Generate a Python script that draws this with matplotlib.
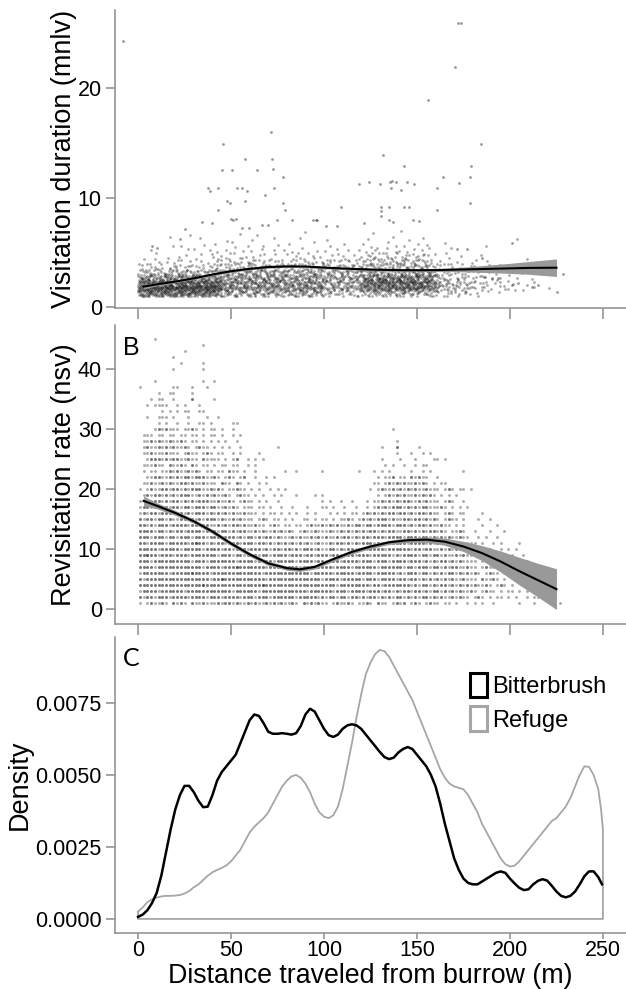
import matplotlib
matplotlib.use("Agg")
import matplotlib.pyplot as plt
from matplotlib.patches import Patch
from matplotlib.ticker import FormatStrFormatter

plt.rcParams["font.family"] = ["Liberation Sans", "DejaVu Sans"]

# ---------------- panel A: visitation duration ----------------
# points per cell: columns of 2.5 m from 0 m,
# rows of 0.5 min starting at 1.0 min (bottom row first), hex digits
A_ROWS = [
    "89a89a99|9a99a9a9|95454545|45454544|45454545|23232323|34343434|43434343|21212121|11010100|00000000|00",
    "cdcedcec|decddced|dc676767|67676766|67676767|45454545|89898a99|a9a99987|53423232|21210121|01100100|10",
    "abacabca|bcabbacb|ab767676|67676767|66767676|45454545|99aabab9|babaa9a8|53423232|21211201|10010100|00",
    "66756576|67675767|76565656|56565656|55656565|45454545|78789787|98978786|42312121|21201101|01001000|00",
    "34243243|43434234|44545345|45454545|43454543|34343434|45555454|54556454|32313121|12110101|00100000|00",
    "21212111|21221212|23232323|32332323|23232323|32323232|33434343|34343432|21120201|10110100|00000000|00",
    "01011011|11011101|12121212|21212121|12121212|12121212|22323232|23232321|10101001|10010000|00010000|00",
    "00010010|10100101|11011011|10110101|01101101|01011010|12121212|12121211|00100100|01000000|00000000|00",
    "00100000|00101001|01101010|10100101|01010010|10100101|01110101|11010110|00010000|00000000|00000000|00",
    "00000001|01000010|10001001|00100010|10000100|01001000|10100101|01001010|01000000|00100000|00000000|00",
    "00000010|00000100|00010000|10000100|00100000|10000000|01000010|00100100|00000000|00000000|01000000|00",
    "00000000|00010000|00000100|01000000|00010000|00000000|00100000|10000000|00000000|00000000|00000000|00",
]
A_COL_W = 2.5
A_ROW_H = 0.5
A_ROW0 = 1.0

# sparse points above the main cloud
A_OUT_X = [-8, 71.5, 45.9, 71.9, 57.5, 45, 50.5, 63.8, 72.4, 78.1, 37.8, 43.2, 53.1,
           55.7, 72.9, 38.7, 58.4, 68.3, 47.7, 49.5, 57.5, 43.2, 78.1, 79, 51.2, 34.2,
           39.6, 74.6, 82.7, 55.7, 25.3, 94.3, 109, 95.7, 101, 107.2, 49.8, 52.7, 66.5,
           70, 59.7, 22.6, 172.2, 173.4, 170.4, 155.7, 184.2, 131.9, 143.2, 178.9,
           163.8, 178.5, 119, 124.2, 130.1, 135.5, 136.5, 138.7, 144.8, 148.4, 172.4,
           135.8, 141.2, 160.9, 178.3, 130.5, 135, 143, 145.7, 160.9, 130.5, 130.5,
           96.4, 134.7, 147.8, 121.7, 151.3, 137, 200.9, 228.7, 225.4, 212, 204.3,
           201.3, 215.2, 193.8, 190.2, 186.7, 184.8, 176.7, 171.3, 7.4, 10]
A_OUT_Y = [24.3, 16.0, 14.9, 13.5, 13.5, 12.5, 12.5, 12.5, 12.6, 11.9, 10.9, 10.9, 10.9,
           10.9, 10.9, 10.6, 10.6, 10.2, 9.7, 9.5, 9.7, 8.9, 9.5, 8.9, 8.0, 7.8,
           7.7, 8.0, 8.0, 7.2, 7.1, 8.0, 9.15, 8.0, 7.4, 7.4, 8.1, 8.1, 7.5,
           7.5, 7.2, 6.2, 25.9, 25.9, 21.9, 18.9, 14.9, 13.9, 12.9, 12.9,
           11.9, 11.9, 11.2, 11.4, 11.2, 11.4, 11.5, 11.4, 11.4, 11.2, 11.3,
           10.9, 10.7, 10.9, 9.5, 9.15, 9.15, 9.15, 9.15, 8.9, 8.3, 8.8,
           8.0, 8.0, 8.0, 7.7, 7.9, 7.8, 5.9, 3.0, 1.4, 1.9, 2.2,
           2.0, 2.0, 2.7, 2.7, 2.8, 4.5, 5.3, 5.3, 5.6, 5.4]

# smoothed trend and its confidence half-width
A_FIT_X = [3, 10, 20, 30, 40, 50, 60, 70, 80, 90, 100, 110, 120, 130, 140, 150, 160,
           170, 180, 190, 200, 210, 225]
A_FIT_Y = [1.9, 2.1, 2.35, 2.65, 3.0, 3.3, 3.52, 3.68, 3.74, 3.73, 3.63, 3.55, 3.48,
           3.43, 3.40, 3.39, 3.40, 3.44, 3.48, 3.52, 3.56, 3.60, 3.62]
A_FIT_SE = [0.22, 0.14, 0.11, 0.1, 0.1, 0.1, 0.1, 0.1, 0.1, 0.1, 0.1, 0.1, 0.1, 0.1,
            0.1, 0.1, 0.12, 0.18, 0.26, 0.36, 0.46, 0.58, 0.8]

# ---------------- panel B: revisitation rate ----------------
# rows of integer counts from 45 down to 1, columns of 2 m from 0 m
# ' ' none, '.' one point, ':' two, '#' three
B_TOP = 45
B_ROWS = [
    "    .     ",
    "          |       .  ",
    "          |  .       ",
    "         .",
    "          | .     .  ",
    "         .|       .  ",
    "",
    "    .     |       .  |.         ",
    ".        .|.   .   . ",
    "     .  ..|    .     ",
    "   . ..  .|    :     |.         ",
    "  . ....  |. .   .   ",
    "      . . |. ..  ..  ",
    "  .  ... .|   .    . | .        ",
    "     . .  |.  .  .. .|     ..   ",
    "    .:.:..|. ..:. . .|. .  .    |          |          |          |        . ",
    " ... .. ..| .. .. . .|. .  . .  ",
    " ..:.:..:.|.:. .. . .| . .  .   |          |          |          |         . ",
    " .:..:.:.:|..:. .:.. |. . .  .  |       .  |          |          |     .   : |     .    ",
    " ..:...:..|. .:.. .:.| ..  . .  |  .       |          |          |         . |   .  . . ",
    "  .:::.:.:|:..:.. :..|.. . .:  .| . .      |          |          |     .    |.   .    .|. .       ",
    " ...:.. :.|.:. :. .. |. .. ..  .| .        |          |          |      . . | .  . ..  ",
    " . .. ..:.|:..:.:. ..| .. :.. . | .       .|  .      .|         .|   . . . |   .  . . |       .  ",
    "  ..::..:.|:.::.:::..|:. .:. .: | .  . .   |          |          |    . ..: |.. :.:..  |.         ",
    " ..:..:.:.|.::.:..:..|. :.. :. .|  . .     |          |          |   .. .:.:|.:..:.:. .| ..       ",
    ". .:..::.:|:.:.:::..:|.:. ..:.. |. .  . . .|          |          |  . .:..:.|:.:.:..:..|. .:. .. .",
    " .:.::.:.:|.:::..:.:.|:..:. .:..| . .  . . |  .    . .|          |    . .:.:|.:..:.:.:.| . . .    ",
    "..:.::.:.:|:.:.:.:::.|.:..:. .:.|. . .  .  |         .| .  .  .  | . ..:.:.:|.::..:.:..|. .:.  .  ",
    ".::.:.::.:|:.::.:::.:|:..:.:. ..|. .. .  . | .   .   .|. .  .  . | . .:.:.::|:.:.:.::..|.:. . . . ",
    ".:.::.:::.|::.:.:::.:|.:.:.:..:.|.. . .. . |. .  . .  | . . . .. |.:.:.:.::.|::.:.::.:.|. .:. ..  |  .       ",
    ":.::.::.:.|.::::.:.::|:.:..:.:..|. .:. .. .| .  .. . .|. . ..:. .|:.:.:::.:.|.::.::.:.:|. .:.. .  | .  .     ",
    "::.:.:::.:|:::.::.::.|.:.:.::.:.|.:.. .:. .|. .. .:..:|.:.:..:.::|.::.::::.:|::.:.::.:.|.:.. . .  |  .   .   ",
    "::::.::.:.|::.::::.::|:.::.:.::.|.:.:..:.:.|:. .:..:..|.:..:.:.:.|:.::.:.::.|.::.:.:.::|.:. ..:.  |.   .   . ",
    ":::.:::.::|.:::.:::.:|::.:::.:.:|:.:.::.:..|.:.:..:.:.|:..:.::.:.|::.:::.:::|:.:::.::.:|.:.:..:.. | . .  .   ",
    "::.::::.::|:::.:#::.:|.::.:::.::|:.::.:.:.:|.:.:.:..:.|.:.::.:.:.|:::.::.:::|::.::::.:.|:.:.:.. ..|. .  . .  |  .       ",
    ":::::.::::|:.:::::.::|::.::.:::.|:::.:.::.:|:.:.:::.:.|.::.:.::.:|:.::::.:::|:::.::.::.|.:.:.:.. .|. . .  . .| .        ",
    "::#::.:::.|:::.::::::|:.:::.::.:|::.::.::::|.:::.::.::|:.::.:::.:|::.:::::.:|.::::.::.:|:.:..:.:..|. .. . .  |.  .      ",
    ":::.::::::|::::.:::.:|::::::.:::|:.::::.:::|::.::::.::|.:::.::::.|:::.:::.::|::.:::.:.:|.::.:.:...|. .:.. . .| .  .     ",
    "::::.:::::|:::::::.::|::.:::#:::|::::.:::::|:::.::::::|::.::::.::|::::.:::::|:.::.:::.:|:.:.::..:.|. .:.. .. |.  .   .  ",
    ".:::::::.:|::::#::::.|::::::::::|:::.::::::|::::::.:::|::.:::::.:|:::.:::::.|:.:::.::.:|.:.::.:.:.|:. .:.. .:| . .  .   ",
    ":.::::::::|:::::::::.|::#:::::::|::::.:::::|:::::::::.|::::.:::::|.:::.::::.|::.::.:.:.|:.:.:..:..|. :..:. . | .  . . . ",
    "::::::::::|:::::::#::|::::::::::|:::#::::::|::::::::::|:::.::::::|::.::.::::|:::.:.::.:|.::.:.:.:.|:..:. .:. |.  . .    ",
    ".::::.::::|::.:::::::|:::::.::::|::.:::::::|:::::.::::|::.:::.:::|:.:::.::.:|.::.::.:.:|:.:.:.:..:|. .:.. . .|. . .  .  ",
    ":.::.:::.:|:::.::::.:|::.::::.::|:.:::.::::|::.:::::.:|.::.::.::.|:.::.:.:.:|:.:.:.::.:|.:..:.:.. |.:. . .. .| .  . ..  ",
    ". .:..:. :|.:. :..:..|.:.::.:..:|.:..:.:.:.|.:. :.:.:.|. .:..:. .|.:. :.. .:|.: .:. .:.|. .. .  . |. .  .    |  .   .   |   .      ",
]
B_COL_W = 2.0
B_MARK = {" ": 0, ".": 1, ":": 2, "#": 3}

B_FIT_X = [3, 10, 20, 30, 40, 50, 60, 70, 80, 87, 95, 105, 115, 125, 135, 145, 155,
           165, 175, 185, 195, 205, 215, 225]
B_FIT_Y = [18.0, 17.2, 16.0, 14.6, 12.9, 10.9, 9.1, 7.6, 6.8, 6.6, 7.0, 8.3, 9.5,
           10.4, 11.1, 11.45, 11.55, 11.2, 10.4, 9.3, 7.9, 6.3, 4.8, 3.3]
B_FIT_SE = [0.8, 0.5, 0.4, 0.35, 0.35, 0.35, 0.35, 0.35, 0.35, 0.35, 0.35, 0.35, 0.35,
            0.35, 0.35, 0.38, 0.45, 0.6, 0.85, 1.25, 1.75, 2.3, 2.8, 3.4]

# ---------------- panel C: density of distances ----------------
BIT_X = [0, 2.5, 5, 7.5, 10, 12.5, 15, 17.5, 20, 22.5, 25, 27.5, 30, 32.5, 35, 37.5,
         40, 42.5, 45, 47.5, 50, 52.5, 55, 57.5, 60, 62.5, 65, 67.5, 70, 72.5, 75,
         77.5, 80, 82.5, 85, 87.5, 90, 92.5, 95, 97.5, 100, 102.5, 105, 107.5, 110,
         112.5, 115, 117.5, 120, 122.5, 125, 127.5, 130, 132.5, 135, 137.5, 140,
         142.5, 145, 147.5, 150, 152.5, 155, 157.5, 160, 162.5, 165, 167.5, 170,
         172.5, 175, 177.5, 180, 182.5, 185, 187.5, 190, 192.5, 195, 197.5, 200,
         202.5, 205, 207.5, 210, 212.5, 215, 217.5, 220, 222.5, 225, 227.5, 230,
         232.5, 235, 237.5, 240, 242.5, 245, 247.5, 249.5]
BIT_D = [0.00007, 0.00015, 0.0003, 0.00055, 0.0009, 0.0015, 0.0023, 0.0031, 0.0038,
         0.0043, 0.00462, 0.00462, 0.0044, 0.0041, 0.00388, 0.0039, 0.0043, 0.0048,
         0.0051, 0.0053, 0.0055, 0.0057, 0.0061, 0.0065, 0.0069, 0.0071, 0.00705,
         0.0068, 0.0065, 0.00643, 0.00643, 0.00645, 0.00643, 0.0064, 0.00645, 0.0067,
         0.0071, 0.0073, 0.0072, 0.0069, 0.0066, 0.00638, 0.00632, 0.0064, 0.0066,
         0.00672, 0.00676, 0.00672, 0.0066, 0.0064, 0.0062, 0.0060, 0.0058, 0.00562,
         0.00555, 0.0056, 0.00578, 0.0059, 0.00597, 0.0059, 0.0057, 0.0055, 0.0053,
         0.0050, 0.0046, 0.0040, 0.0033, 0.0027, 0.0021, 0.0017, 0.0014, 0.00125,
         0.0012, 0.0012, 0.0013, 0.0014, 0.0015, 0.0016, 0.00165, 0.0016, 0.0014,
         0.00123, 0.00108, 0.0010, 0.00103, 0.0012, 0.00132, 0.00138, 0.00133,
         0.00115, 0.00095, 0.0008, 0.00075, 0.0008, 0.00095, 0.0012, 0.00148,
         0.00165, 0.00165, 0.00145, 0.0012]
REF_X = [0, 2.5, 5, 7.5, 10, 12.5, 15, 17.5, 20, 22.5, 25, 27.5, 30, 32.5, 35, 37.5,
         40, 42.5, 45, 47.5, 50, 52.5, 55, 57.5, 60, 62.5, 65, 67.5, 70, 72.5, 75,
         77.5, 80, 82.5, 85, 87.5, 90, 92.5, 95, 97.5, 100, 102.5, 105, 107.5, 110,
         112.5, 115, 117.5, 120, 122.5, 125, 127.5, 130, 132.5, 135, 137.5, 140,
         142.5, 145, 147.5, 150, 152.5, 155, 157.5, 160, 162.5, 165, 167.5, 170,
         172.5, 175, 177.5, 180, 182.5, 185, 187.5, 190, 192.5, 195, 197.5, 200,
         202.5, 205, 207.5, 210, 212.5, 215, 217.5, 220, 222.5, 225, 227.5, 230,
         232.5, 235, 237.5, 240, 242.5, 245, 247.5, 249, 250, 250, 0, 0]
REF_D = [0.00025, 0.0004, 0.00058, 0.00068, 0.00074, 0.00078, 0.0008, 0.0008, 0.00081,
         0.00083, 0.00088, 0.00097, 0.0011, 0.0012, 0.00135, 0.0015, 0.00162, 0.0017,
         0.00177, 0.00186, 0.0020, 0.0022, 0.0024, 0.0027, 0.0030, 0.0032, 0.00335,
         0.0035, 0.0037, 0.0040, 0.0043, 0.0046, 0.0048, 0.00495, 0.0050, 0.0049,
         0.0047, 0.0044, 0.0040, 0.0037, 0.00355, 0.0035, 0.0036, 0.0039, 0.0045,
         0.0053, 0.0061, 0.0070, 0.0078, 0.0085, 0.0089, 0.0092, 0.00934, 0.0093,
         0.0091, 0.0088, 0.0085, 0.0082, 0.0079, 0.0076, 0.0072, 0.0068, 0.0064,
         0.0060, 0.0056, 0.0052, 0.0049, 0.0047, 0.0046, 0.00455, 0.0045, 0.0043,
         0.0040, 0.0037, 0.0033, 0.0030, 0.0027, 0.0024, 0.0021, 0.0019, 0.00182,
         0.00185, 0.0020, 0.0022, 0.0024, 0.0026, 0.0028, 0.0030, 0.0032, 0.0034,
         0.0035, 0.0037, 0.0039, 0.0042, 0.0046, 0.0050, 0.0053, 0.00528, 0.0050,
         0.0045, 0.0038, 0.0031, 0.0, 0.0, 0.00025]

X_TICKS = [0, 50, 100, 150, 200, 250]

# fixed spread of points that share one cell (fractions of the cell)
CELL_SPREAD = [(-0.31, -0.27), (0.12, 0.35), (0.38, -0.08), (-0.05, 0.02), (-0.42, 0.22),
               (0.27, -0.39), (0.05, -0.22), (-0.2, 0.41), (0.44, 0.18), (-0.36, -0.05),
               (0.19, 0.1), (-0.12, -0.44), (0.33, 0.42), (-0.45, -0.4), (0.02, 0.27),
               (-0.25, 0.12)]


def grid_points_a():
    xs, ys = [], []
    n_spread = len(CELL_SPREAD)
    for r, row in enumerate(A_ROWS):
        cells = "".join(ch.ljust(8)[:8] for ch in row.split("|"))
        for c, ch in enumerate(cells):
            n = 0 if ch == " " else int(ch, 16)
            start = (c * 5 + r * 11) % n_spread
            for k in range(n):
                dx, dy = CELL_SPREAD[(start + k) % n_spread]
                xs.append((c + 0.5 + dx) * A_COL_W)
                ys.append(A_ROW0 + (r + 0.5 + dy) * A_ROW_H)
    return xs, ys


def grid_points_b():
    xs, ys = [], []
    for i, row in enumerate(B_ROWS):
        cells = "".join(ch.ljust(10)[:10] for ch in row.split("|")) if row else ""
        for c, ch in enumerate(cells):
            for _ in range(B_MARK.get(ch, 0)):
                xs.append(c * B_COL_W + 1)
                ys.append(B_TOP - i)
    return xs, ys


SPINE = "#8c8c8c"
fig = plt.figure(figsize=(6.26, 9.89), dpi=100)
axA = fig.add_axes([0.1837, 0.6886, 0.8163, 0.3013])
axB = fig.add_axes([0.1837, 0.3691, 0.8163, 0.3023])
axC = fig.add_axes([0.1837, 0.0566, 0.8163, 0.2993])

for ax in (axA, axB, axC):
    ax.spines[["top", "right"]].set_visible(False)
    for side in ("left", "bottom"):
        ax.spines[side].set_color(SPINE)
        ax.spines[side].set_linewidth(1.1)
    ax.set_xlim(-12.4, 262.4)
    ax.set_xticks(X_TICKS)
    ax.tick_params(colors=SPINE, labelcolor="black", labelsize=15.5, width=1.1)
    ax.tick_params(axis="y", length=6.5, pad=3)

# A
xa, ya = grid_points_a()
axA.scatter(xa, ya, s=4, c="black", alpha=0.33, linewidths=0, zorder=2)
axA.scatter(A_OUT_X, A_OUT_Y, s=4, c="black", alpha=0.4, linewidths=0, zorder=2)
lo = [y - e for y, e in zip(A_FIT_Y, A_FIT_SE)]
hi = [y + e for y, e in zip(A_FIT_Y, A_FIT_SE)]
axA.fill_between(A_FIT_X, lo, hi, color="#999999", linewidth=0, zorder=3)
axA.plot(A_FIT_X, A_FIT_Y, color="black", lw=1.5, zorder=4)
axA.set_ylim(-0.05, 27.1)
axA.set_yticks([0, 10, 20])
axA.tick_params(axis="x", labelbottom=False, length=8)
axA.set_ylabel("Visitation duration (mnlv)", fontsize=19.5)
axA.yaxis.set_label_coords(-0.074, 0.5)

# B
xb, yb = grid_points_b()
axB.scatter(xb, yb, s=4.5, c="black", alpha=0.32, linewidths=0, zorder=2)
lo = [y - e for y, e in zip(B_FIT_Y, B_FIT_SE)]
hi = [y + e for y, e in zip(B_FIT_Y, B_FIT_SE)]
axB.fill_between(B_FIT_X, lo, hi, color="#999999", linewidth=0, zorder=3)
axB.plot(B_FIT_X, B_FIT_Y, color="black", lw=1.5, zorder=4)
axB.set_ylim(-2.5, 47.3)
axB.set_yticks([0, 10, 20, 30, 40])
axB.tick_params(axis="x", labelbottom=False, length=8)
axB.set_ylabel("Revisitation rate (nsv)", fontsize=19.5)
axB.yaxis.set_label_coords(-0.074, 0.5)
axB.text(0.015, 0.923, "B", transform=axB.transAxes, fontsize=18, va="center", ha="left")

# C
axC.plot(REF_X, REF_D, color="#a6a6a6", lw=1.3, zorder=2)
axC.plot(BIT_X, BIT_D, color="black", lw=1.8, zorder=3)
axC.set_ylim(-0.00049, 0.00979)
axC.set_yticks([0, 0.0025, 0.005, 0.0075])
axC.yaxis.set_major_formatter(FormatStrFormatter("%.4f"))
axC.tick_params(axis="x", length=4.5, pad=0.5)
axC.set_ylabel("Density", fontsize=19.5)
axC.yaxis.set_label_coords(-0.16, 0.5)
axC.set_xlabel("Distance traveled from burrow (m)", fontsize=19.3)
axC.xaxis.set_label_coords(0.4995, -0.1)
axC.text(0.015, 0.929, "C", transform=axC.transAxes, fontsize=18, va="center", ha="left",
         family=["Lato", "DejaVu Sans"])
handles = [Patch(facecolor="none", edgecolor="black", linewidth=2.2, label="Bitterbrush"),
           Patch(facecolor="none", edgecolor="#a6a6a6", linewidth=2.2, label="Refuge")]
axC.legend(handles=handles, loc="upper left", bbox_to_anchor=(0.695, 0.878), frameon=False,
           fontsize=17, handlelength=0.7, handleheight=1.2, handletextpad=0.25,
           labelspacing=0.35, borderpad=0, borderaxespad=0)

fig.savefig("out.png", dpi=100)
